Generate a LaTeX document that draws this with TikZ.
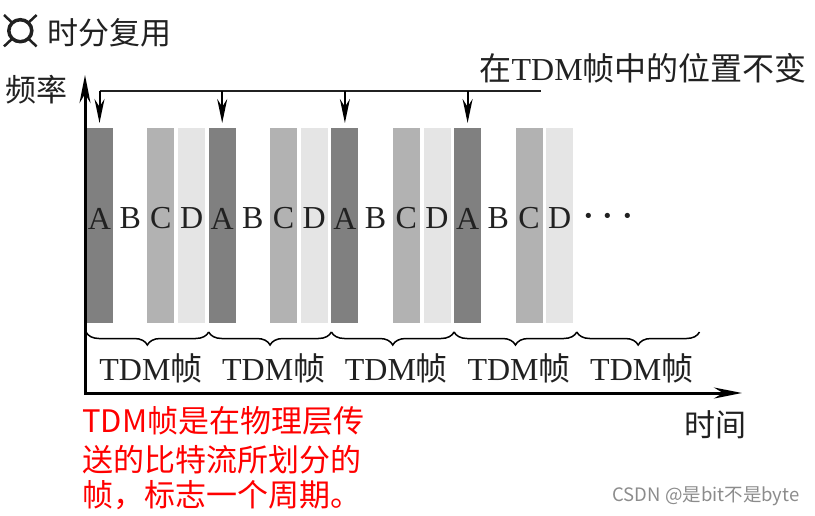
\documentclass[tikz,border=0pt]{standalone}
\usepackage{fontspec}
\setmainfont{Liberation Serif}
\newfontfamily\cjk{Noto Sans CJK SC}
\usepackage{tikz}
\usetikzlibrary{arrows.meta,decorations.pathreplacing}
\definecolor{txt}{gray}{0.13}
\definecolor{barA}{gray}{0.5}
\definecolor{barC}{gray}{0.7}
\definecolor{barD}{gray}{0.9}

\begin{document}
\begin{tikzpicture}[x=1pt,y=-1pt,
  slot/.style={minimum width=27pt,minimum height=195pt,inner sep=0pt,outer sep=0pt},
  letter/.style={font=\fontsize{32}{32}\selectfont,text=txt,inner sep=0pt},
  lab/.style={font=\cjk\fontsize{31}{31}\selectfont,text=txt,inner sep=0pt},
  framelab/.style={font=\fontsize{32}{32}\selectfont,text=txt,inner sep=0pt},
  redtxt/.style={font=\cjk\fontsize{31}{31}\selectfont,text=red,inner sep=0pt,anchor=west},
  wmark/.style={font=\cjk\fontsize{18.5}{18.5}\selectfont,text=black!45,inner sep=0pt},
  axisline/.style={line width=3pt,{Stealth[length=28pt,width=11pt]}-{Stealth[length=28pt,width=11pt]}},
  downarrow/.style={line width=2pt,-{Stealth[length=24pt,width=10pt]}},
  framebrace/.style={line width=1.5pt,decorate,decoration={brace,mirror,amplitude=13pt}}]
  \useasboundingbox (0,0) rectangle (815,515);

  % title with icon
  \draw[line width=3.5pt,txt] (20.3,30.7) ellipse (11.5 and 11);
  \draw[line width=2.5pt,txt] (12,22.5) -- (4,15) (28.6,22.5) -- (36.6,15)
    (12,38.9) -- (4,46.4) (28.6,38.9) -- (36.6,46.4);
  \node[lab,anchor=west] (title) at (47,33) {时分复用};

  % time slots
  \foreach \p in {0,...,3}{
    \pgfmathsetmacro\xa{86+122.7*\p}
    \node[slot,fill=barA] (A\p) at (\xa+13.5,225.5) {};
    \node[slot] (B\p) at (\xa+44.2,225.5) {};
    \node[slot,fill=barC] (C\p) at (\xa+74.9,225.5) {};
    \node[slot,fill=barD] (D\p) at (\xa+105.6,225.5) {};
    \foreach \s in {A,B,C,D}
      \node[letter,yshift=7pt] (l\s\p) at (\s\p) {\s};
  }
  \node[letter,font=\fontsize{44}{44}\selectfont] (more) at (608,222) {·\kern5pt·\kern5pt·};

  % same position in every frame
  \coordinate (bl) at (99.5,91);
  \coordinate (br) at (541,91);
  \draw[line width=2pt,txt] (bl) -- (br);
  \foreach \p in {0,...,3}
    \draw[downarrow] (A\p |- bl) -- ([yshift=5pt]A\p.north);
  \node[lab,anchor=east,font=\cjk\fontsize{32}{32}\selectfont] (keep) at (807,68) {在{\fontspec{Liberation Serif}TDM}帧中的位置不变};

  % frames
  \foreach \k in {0,...,5}
    \coordinate (f\k) at (86+122.7*\k,332);
  \foreach \k [evaluate=\k as \n using int(\k+1)] in {0,...,4}{
    \draw[framebrace] (f\k) -- (f\n);
    \node[framelab] (t\k) at (86+122.7*\k+65,368) {TDM{\cjk 帧}};
  }

  % axes
  \coordinate (O) at (85,393);
  \coordinate (yend) at (85,75);
  \coordinate (xend) at (742,393);
  \draw[axisline] (yend) -- (O) -- (xend);
  \node[lab,anchor=west] (freq) at (5,90) {频率};
  \node[lab] (time) at (715,425) {时间};

  % note
  \node[redtxt] (n1) at (82,421) {TDM帧是在物理层传};
  \node[redtxt] (n2) at (82,460) {送的比特流所划分的};
  \node[redtxt] (n3) at (82,495) {帧，标志一个周期。};

  \node[wmark] (csdn) at (706,496) {CSDN @是bit不是byte};
\end{tikzpicture}
\end{document}
